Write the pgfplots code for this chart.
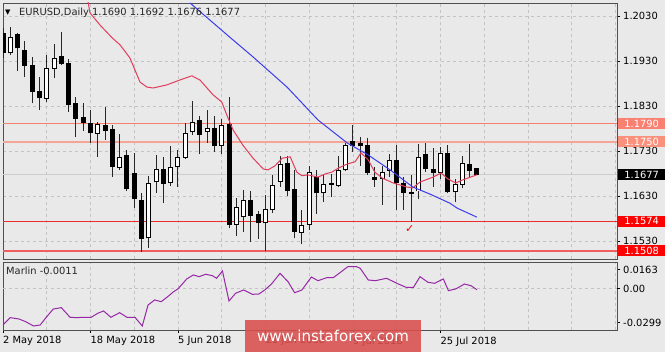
\documentclass[border=0pt]{standalone}
\usepackage{pgfplots}
\pgfplotsset{compat=1.18}
\usepackage{pgfplotstable}
\usepackage{fontspec}
\setmainfont{DejaVu Sans}
\newcommand\lab{\fontsize{9.9pt}{11pt}\selectfont}
\definecolor{bgc}{RGB}{233,233,233}
\definecolor{gridc}{RGB}{195,195,195}
\definecolor{framec}{RGB}{80,80,80}
\definecolor{maR}{RGB}{226,62,92}
\definecolor{maB}{RGB}{60,60,235}
\definecolor{marlin}{RGB}{150,40,165}
\definecolor{l1790}{RGB}{244,128,110}
\definecolor{l1750}{RGB}{244,165,150}
\definecolor{b1790}{RGB}{250,128,114}
\definecolor{b1750}{RGB}{250,145,125}
\definecolor{l1574}{RGB}{235,45,45}
\definecolor{l1508}{RGB}{240,95,95}
\definecolor{redbox}{RGB}{255,0,0}
\definecolor{bidc}{RGB}{205,205,205}
\definecolor{wm}{RGB}{218,78,78}

\pgfplotstableread{
i O H L C
0 1.1992 1.2003 1.1937 1.1948
2 1.1988 1.1992 1.1908 1.1958
3 1.1953 1.1975 1.1894 1.1919
4 1.1921 1.1938 1.1836 1.1860
5 1.1863 1.1895 1.1821 1.1847
8 1.1941 1.1994 1.1921 1.1923
9 1.1925 1.1934 1.1816 1.1832
10 1.1836 1.1851 1.1760 1.1802
11 1.1805 1.1836 1.1774 1.1792
12 1.1790 1.1820 1.1748 1.1769
14 1.1787 1.1828 1.1754 1.1774
15 1.1777 1.1788 1.1673 1.1694
17 1.1719 1.1732 1.1642 1.1645
18 1.1680 1.1725 1.1604 1.1623
19 1.1621 1.1637 1.1506 1.1534
22 1.1689 1.1716 1.1614 1.1657
27 1.1797 1.1808 1.1723 1.1766
29 1.1779 1.1808 1.1728 1.1741
31 1.1789 1.1849 1.1558 1.1566
34 1.1619 1.1642 1.1528 1.1586
35 1.1588 1.1597 1.1534 1.1569
39 1.1702 1.1719 1.1630 1.1642
40 1.1645 1.1688 1.1536 1.1551
43 1.1672 1.1688 1.1590 1.1636
45 1.1657 1.1678 1.1628 1.1655
48 1.1750 1.1788 1.1728 1.1741
49 1.1746 1.1762 1.1697 1.1740
50 1.1742 1.1758 1.1677 1.1680
51 1.1672 1.1694 1.1651 1.1666
54 1.1708 1.1743 1.1599 1.1658
55 1.1658 1.1673 1.1599 1.1636
56 1.1638 1.1677 1.1573 1.1635
58 1.1723 1.1747 1.1684 1.1689
59 1.1689 1.1736 1.1651 1.1682
61 1.1725 1.1743 1.1636 1.1638
64 1.1701 1.1746 1.1671 1.1686
65 1.1690 1.1692 1.1676 1.1677
}\bear

\pgfplotstableread{
i O H L C
1 1.1947 1.2006 1.1943 1.1984
6 1.1846 1.1943 1.1838 1.1914
7 1.1912 1.1967 1.1892 1.1936
13 1.1768 1.1794 1.1717 1.1789
16 1.1693 1.1767 1.1688 1.1717
20 1.1536 1.1674 1.1515 1.1658
21 1.1661 1.1721 1.1637 1.1689
23 1.1658 1.1741 1.1653 1.1695
24 1.1694 1.1732 1.1651 1.1716
25 1.1715 1.1793 1.1712 1.1771
26 1.1772 1.1840 1.1766 1.1795
28 1.1772 1.1820 1.1748 1.1781
30 1.1741 1.1801 1.1723 1.1788
32 1.1566 1.1625 1.1541 1.1605
33 1.1584 1.1643 1.1549 1.1620
36 1.1569 1.1632 1.1508 1.1600
37 1.1599 1.1677 1.1592 1.1654
38 1.1662 1.1719 1.1651 1.1701
41 1.1548 1.1599 1.1523 1.1566
42 1.1566 1.1696 1.1554 1.1683
44 1.1636 1.1677 1.1617 1.1657
46 1.1652 1.1719 1.1651 1.1688
47 1.1688 1.1748 1.1686 1.1743
52 1.1667 1.1696 1.1610 1.1683
53 1.1686 1.1723 1.1673 1.1710
57 1.1640 1.1746 1.1623 1.1717
60 1.1682 1.1738 1.1667 1.1726
62 1.1638 1.1667 1.1617 1.1657
63 1.1655 1.1719 1.1647 1.1703
}\bull

\begin{document}
\begin{tikzpicture}[x=1pt,y=1pt]
\path[use as bounding box, fill=bgc] (0,0) rectangle (665,352);

% ---------------- main price panel ----------------
\begin{axis}[
  at={(3pt,93pt)}, anchor=south west, scale only axis,
  width=614pt, height=256pt,
  xmin=0, xmax=84.22, ymin=1.14900, ymax=1.20589,
  scaled y ticks=false, scaled x ticks=false,
  axis background/.style={fill=bgc},
  axis line style={draw=framec, line width=0.8pt},
  xtick={0,6,...,84}, xticklabels={}, major x tick style={draw=none},
  ytick={1.1530,1.1630,1.1730,1.1830,1.1930,1.2030},
  yticklabels={1.1530,1.1630,1.1730,1.1830,1.1930,1.2030},
  ytick pos=right, yticklabel pos=right, tick align=outside,
  major tick length=3pt,
  y tick style={draw=black, line width=0.6pt},
  grid=major, grid style={gridc, line width=0.6pt, dash pattern=on 3pt off 3pt},
  yticklabel style={font=\lab, anchor=west, inner xsep=3pt, text=black},
  clip mode=individual,
]
% level lines
\addplot[bidc, line width=0.8pt, mark=none] coordinates {(0,1.1677) (84.22,1.1677)};
\addplot[l1790, line width=1pt, mark=none] coordinates {(0,1.1790) (84.22,1.1790)};
\addplot[l1750, line width=1.8pt, mark=none] coordinates {(0,1.1750) (84.22,1.1750)};
\addplot[l1574, line width=1pt, mark=none] coordinates {(0,1.1574) (84.22,1.1574)};
\addplot[l1508, line width=1.4pt, mark=none] coordinates {(0,1.1508) (84.22,1.1508)};
% wicks
\addplot[draw=none, mark=none, error bars/.cd, y dir=plus, y explicit, error mark=none,
  error bar style={draw=black!85, line width=1pt}]
  table[x=i, y=L, y error plus expr=\thisrow{H}-\thisrow{L}] {\bear};
\addplot[draw=none, mark=none, error bars/.cd, y dir=plus, y explicit, error mark=none,
  error bar style={draw=black!85, line width=1pt}]
  table[x=i, y=L, y error plus expr=\thisrow{H}-\thisrow{L}] {\bull};
% bodies
\addplot[draw=none, mark=none, error bars/.cd, y dir=plus, y explicit, error mark=none,
  error bar style={draw=black, line width=5pt}]
  table[x=i, y=C, y error plus expr=\thisrow{O}-\thisrow{C}+0.00012] {\bear};
\addplot[draw=none, mark=none, error bars/.cd, y dir=plus, y explicit, error mark=none,
  error bar style={draw=black, line width=5pt}]
  table[x=i, y=O, y error plus expr=\thisrow{C}-\thisrow{O}] {\bull};
\addplot[draw=none, mark=none, error bars/.cd, y dir=plus, y explicit, error mark=none,
  error bar style={draw=white, line width=3pt}]
  table[x=i, y expr=\thisrow{O}+0.00022, y error plus expr=\thisrow{C}-\thisrow{O}-0.00044] {\bull};
% moving averages
\addplot[maR, line width=1pt, mark=none] coordinates {
(11.66,1.2062)(11.93,1.2037)(13.3,1.2010)(15.0,1.1981)(16.05,1.1966)(17.4,1.1937)(18.8,1.1883)
(19.75,1.1872)(20.6,1.1870)(22.5,1.1877)(24.3,1.1888)(25.9,1.1897)(27.0,1.1888)(28.8,1.1855)
(30.0,1.1839)(30.7,1.1810)(31.55,1.1777)(32.9,1.1743)(34.3,1.1714)(35.7,1.1690)(36.35,1.1688)
(37.3,1.1697)(38.3,1.1714)(39.4,1.1717)(40.3,1.1683)(41.0,1.1675)(41.8,1.1677)(43.2,1.1672)
(44.2,1.1679)(45.1,1.1683)(46.0,1.1692)(47.2,1.1701)(48.3,1.1706)(49.1,1.1726)(50.1,1.1710)
(51.0,1.1683)(52.0,1.1670)(53.5,1.1659)(55.4,1.1650)(56.2,1.1648)(57.2,1.1661)(59.0,1.1672)
(60.1,1.1681)(61.0,1.1668)(62.1,1.1659)(63.1,1.1666)(65.0,1.1677)};
\addplot[maB, line width=1pt, mark=none] coordinates {
(25.65,1.2059)(31.1,1.1983)(34.3,1.1939)(38.96,1.1872)(43.2,1.1799)(47.2,1.1748)(50.1,1.1721)
(53.1,1.1688)(56.2,1.1650)(58.6,1.1634)(61.3,1.1614)(62.3,1.1603)(65.0,1.1583)};
\node[text=red, font=\fontsize{11pt}{12pt}\selectfont] at (axis cs:55.8,1.1557) {✓};
\coordinate (c1790) at (axis cs:84.22,1.1790);
\coordinate (c1750) at (axis cs:84.22,1.1750);
\coordinate (c1677) at (axis cs:84.22,1.1677);
\coordinate (c1574) at (axis cs:84.22,1.1574);
\coordinate (c1508) at (axis cs:84.22,1.1508);
\end{axis}

% price boxes on the right scale
\tikzset{pbox/.style={anchor=west, minimum width=47pt, minimum height=11pt, inner sep=0pt, font=\lab, text=white}}
\node[pbox, fill=b1790] at ([xshift=1pt]c1790) {1.1790};
\node[pbox, fill=b1750] at ([xshift=1pt]c1750) {1.1750};
\node[pbox, fill=black] at ([xshift=1pt]c1677) {1.1677};
\node[pbox, fill=redbox] at ([xshift=1pt]c1574) {1.1574};
\node[pbox, fill=redbox] at ([xshift=1pt]c1508) {1.1508};

% title
\node[anchor=base west, inner sep=0pt, font=\fontsize{7pt}{8pt}\selectfont] at (5,337) {▼};
\node[anchor=base west, inner sep=0pt, font=\lab, text=black!85] at (19,336.4) {EURUSD,Daily  1.1690 1.1692 1.1676 1.1677};

% ---------------- Marlin panel ----------------
\begin{axis}[
  at={(3pt,22pt)}, anchor=south west, scale only axis,
  width=614pt, height=68pt,
  xmin=0, xmax=84.22, ymin=-0.03618, ymax=0.02310,
  scaled y ticks=false, scaled x ticks=false,
  axis background/.style={fill=bgc},
  axis line style={draw=framec, line width=0.8pt},
  xtick={0,12,...,60},
  xticklabels={2 May 2018,18 May 2018,5 Jun 2018,21 Jun 2018,9 Jul 2018,25 Jul 2018},
  minor xtick={6,18,30,42,54,66,72,78,84},
  xmajorgrids, xminorgrids, minor tick length=0pt,
  xtick pos=left, ytick pos=right, yticklabel pos=right,
  tick align=outside, major tick length=3pt,
  tick style={draw=black, line width=0.6pt},
  grid style={gridc, line width=0.6pt, dash pattern=on 3pt off 3pt},
  ytick={-0.0299,0.0163}, yticklabels={-0.0299,0.0163},
  extra y ticks={0}, extra y tick labels={0.00},
  extra y tick style={grid=major},
  yticklabel style={font=\lab, anchor=west, inner xsep=3pt, text=black},
  xticklabel style={font=\lab, anchor=north west, inner xsep=0pt, text=black},
  clip mode=individual,
]
\addplot[marlin, line width=1pt, mark=none] coordinates {
(0,-0.0318)(1.0,-0.0254)(2.2,-0.0266)(3.1,-0.0289)(4.2,-0.0327)(5.1,-0.0318)(6.0,-0.0246)
(6.9,-0.0179)(8.0,-0.0167)(9.2,-0.0251)(10.1,-0.0254)(11.2,-0.0251)(12.1,-0.0251)(13.0,-0.0216)
(13.8,-0.0196)(14.8,-0.0251)(16.0,-0.0211)(17.0,-0.0251)(18.1,-0.0251)(19.1,-0.0327)(19.9,-0.0144)
(20.8,-0.0100)(21.7,-0.0115)(22.6,-0.0071)(23.4,-0.0028)(24.0,-0.0004)(25.2,0.0083)(26.1,0.0118)
(26.9,0.0103)(27.8,0.0124)(28.7,0.0112)(29.3,0.0089)(30.1,0.0153)(31.0,-0.0109)(31.9,-0.0042)
(33.0,-0.0013)(34.2,-0.0051)(35.1,-0.0048)(35.9,-0.0013)(36.8,0.0037)(38.0,0.0132)(39.1,0.0059)
(40.0,-0.0037)(41.0,-0.0013)(42.3,0.0100)(43.2,0.0068)(44.4,0.0094)(45.3,0.0094)(46.1,0.0132)
(47.3,0.0190)(48.5,0.0190)(49.0,0.0176)(50.1,0.0074)(51.1,0.0068)(52.6,0.0089)(54.3,0.0037)
(55.3,0.0010)(56.3,0.0010)(57.2,0.0103)(58.3,0.0054)(59.2,0.0045)(60.4,0.0083)(61.1,-0.0019)
(62.1,-0.0004)(63.3,0.0039)(64.2,0.0024)(65.0,-0.0011)};
\end{axis}
\node[anchor=base west, inner sep=0pt, font=\lab, text=black!85] at (6,77) {Marlin -0.0011};

% watermark
\fill[wm, fill opacity=0.88] (245,0) rectangle (421,32);
\node[text=white, font=\fontsize{15pt}{18pt}\selectfont] at (333,16) {www.instaforex.com};
\end{tikzpicture}
\end{document}
